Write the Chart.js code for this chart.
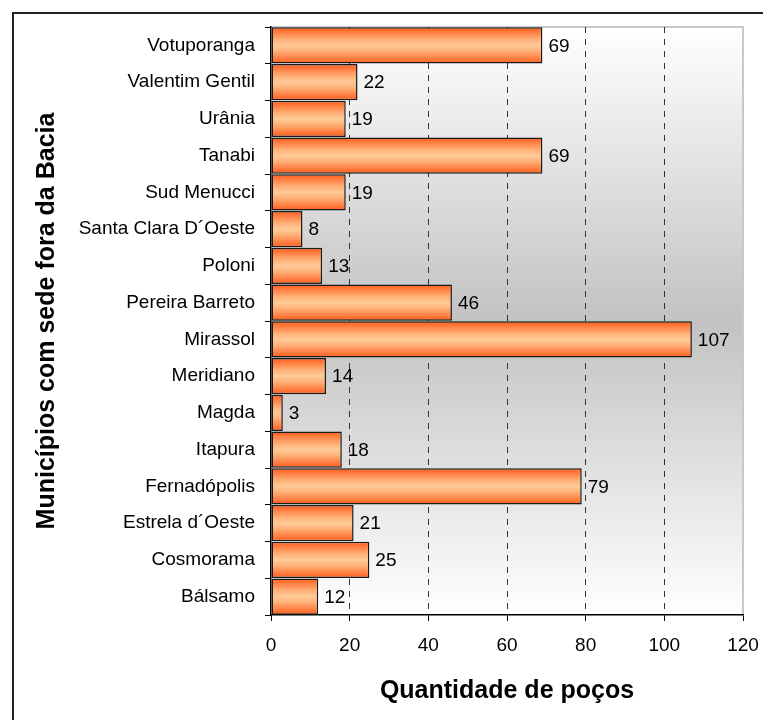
<!DOCTYPE html>
<html>
<head>
<meta charset="utf-8">
<script src="https://cdn.jsdelivr.net/npm/chart.js@4.4.1/dist/chart.umd.min.js"></script>
<style>
  html, body { margin: 0; padding: 0; background: #fff; }
  #wrap { width: 763px; height: 720px; }
</style>
</head>
<body>
<div id="wrap"><canvas id="chart_pocos" width="763" height="720"></canvas></div>
<script>
// municipios (top to bottom) and number of wells
const municipios = ["Votuporanga", "Valentim Gentil", "Urânia", "Tanabi", "Sud Menucci", "Santa Clara D´Oeste", "Poloni", "Pereira Barreto", "Mirassol", "Meridiano", "Magda", "Itapura", "Fernadópolis", "Estrela d´Oeste", "Cosmorama", "Bálsamo"];
const pocos = [69, 22, 19, 69, 19, 8, 13, 46, 107, 14, 3, 18, 79, 21, 25, 12];
const xTicks = [0, 20, 40, 60, 80, 100, 120];

const fontFam = "'Liberation Sans', Arial, sans-serif";

// gray band behind the bars + light frame on top/right
const plotBg = {
    id: "plotBg",
    beforeDraw(chart) {
        const { ctx, chartArea: a } = chart;
        const g = ctx.createLinearGradient(0, a.top, 0, a.bottom);
        g.addColorStop(0, "#ffffff");
        g.addColorStop(0.5, "#c2c2c2");
        g.addColorStop(1, "#ffffff");
        ctx.save();
        ctx.fillStyle = g;
        ctx.fillRect(a.left, a.top, a.right - a.left, a.bottom - a.top);
        ctx.strokeStyle = "#c8c8c8";
        ctx.lineWidth = 2;
        ctx.beginPath();
        ctx.moveTo(a.left, a.top);
        ctx.lineTo(a.right, a.top);
        ctx.lineTo(a.right, a.bottom);
        ctx.stroke();
        ctx.restore();
    },
    afterDraw(chart) {
        // outer chart border (only top and left visible)
        const ctx = chart.ctx;
        ctx.save();
        ctx.strokeStyle = "#222";
        ctx.lineWidth = 2;
        ctx.beginPath();
        ctx.moveTo(13, 720);
        ctx.lineTo(13, 13);
        ctx.lineTo(763, 13);
        ctx.stroke();
        ctx.restore();
    }
};

// value next to the end of each bar
const barValues = {
    id: "barValues",
    afterDatasetsDraw(chart) {
        const ctx = chart.ctx;
        const meta = chart.getDatasetMeta(0);
        ctx.save();
        ctx.font = "19px " + fontFam;
        ctx.fillStyle = "#000";
        ctx.textAlign = "left";
        ctx.textBaseline = "middle";
        meta.data.forEach((bar, i) => {
            ctx.fillText(pocos[i], bar.x + 6, bar.y + 1);
        });
        ctx.restore();
    }
};

function barGradient(context) {
    const chart = context.chart;
    const a = chart.chartArea;
    const y = chart.scales.y;
    if (!a || !y) return "#ff8040";
    const c = y.getPixelForValue(context.dataIndex);
    const h = (a.bottom - a.top) / municipios.length;
    const g = chart.ctx.createLinearGradient(0, c - h / 2, 0, c + h / 2);
    g.addColorStop(0, "#ff5a18");
    g.addColorStop(0.35, "#ffb27a");
    g.addColorStop(0.5, "#ffca96");
    g.addColorStop(0.65, "#ffb27a");
    g.addColorStop(1, "#ff5a18");
    return g;
}

var ChartPocos = new Chart("chart_pocos", {
    type: "bar",
    data: {
        labels: municipios,
        datasets: [{
            data: pocos,
            backgroundColor: barGradient,
            borderColor: "#1a1a1a",
            borderWidth: 1.5,
            borderSkipped: false,
            barPercentage: 1,
            categoryPercentage: 0.98
        }]
    },
    options: {
        indexAxis: "y",
        responsive: false,
        animation: false,
        layout: { padding: { left: 0, top: 27, right: 20, bottom: 0 } },
        plugins: {
            legend: { display: false },
            tooltip: { enabled: false }
        },
        scales: {
            x: {
                min: 0,
                max: 120,
                afterBuildTicks(scale) {
                    scale.ticks = xTicks.map(v => ({ value: v }));
                },
                afterFit(scale) {
                    scale.height = 105;
                    scale.paddingLeft = 0;
                    scale.paddingRight = 0;
                },
                border: { display: true, color: "#000", width: 1.5, dash: [6, 6] },
                grid: {
                    color: c => (c.tick && (c.tick.value === 0 || c.tick.value === 120)) ? "rgba(0,0,0,0)" : "#333",
                    lineWidth: 1,
                    tickLength: 6,
                    tickColor: "#000"
                },
                ticks: {
                    color: "#000",
                    padding: 13,
                    font: { family: fontFam, size: 19 }
                },
                title: {
                    display: true,
                    text: "Quantidade de poços",
                    color: "#000",
                    padding: { top: 0, bottom: 14 },
                    font: { family: fontFam, size: 25, weight: "bold" }
                }
            },
            y: {
                afterFit(scale) { scale.width = 271; },
                border: { display: true, color: "#000", width: 1.5 },
                grid: {
                    offset: true,
                    drawOnChartArea: false,
                    tickLength: 6,
                    tickColor: "#000"
                },
                ticks: {
                    color: "#000",
                    padding: 10,
                    font: { family: fontFam, size: 19 }
                },
                title: {
                    display: true,
                    text: "Municípios com sede fora da Bacia",
                    color: "#000",
                    padding: { top: 32, bottom: 0 },
                    font: { family: fontFam, size: 25, weight: "bold" }
                }
            }
        }
    },
    plugins: [plotBg, barValues]
});
</script>
</body>
</html>
